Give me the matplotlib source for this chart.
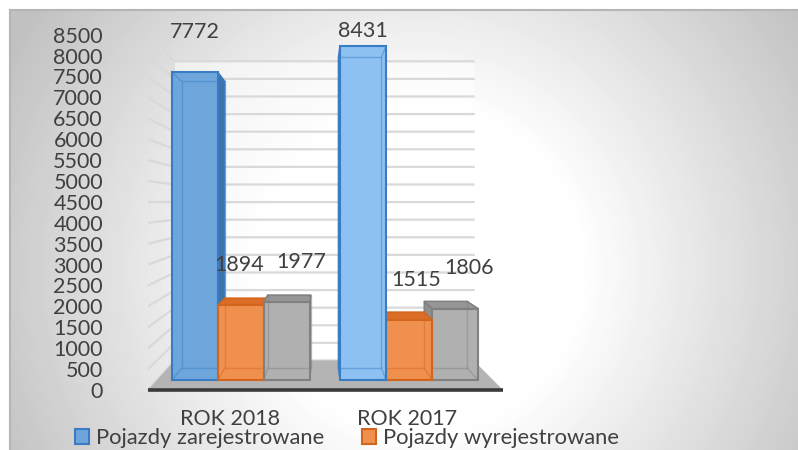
import numpy as np
import matplotlib.pyplot as plt
from matplotlib.patches import Polygon, Rectangle

plt.rcParams['font.family'] = ['Lato', 'DejaVu Sans']

# dane
categories = ['ROK 2018', 'ROK 2017']
series_names = ['Pojazdy zarejestrowane', 'Pojazdy wyrejestrowane', 'Seria 3']
zarejestrowane = [7772, 8431]
wyrejestrowane = [1894, 1515]
seria3 = [1977, 1806]
series_values = [zarejestrowane, wyrejestrowane, seria3]
y_ticks = list(range(0, 8501, 500))

# style serii (front per kategoria, bok, gora, krawedz)
styles = [
    dict(front=['#6ea6dc', '#8cc1f1'], side='#3f74a9', top='#4d86c0', edge='#3a7cc4'),
    dict(front=['#f0904e', '#f0904e'], side='#c9621e', top='#dc6d27', edge='#d2651d'),
    dict(front=['#b0b0b0', '#b0b0b0'], side='#8e8e8e', top='#969696', edge='#808080'),
]
# przesuniecie etykiet danych w poziomie (w jednostkach osi x)
label_dx = [[0.0, 0.0], [-0.01, 0.04], [0.08, 0.08]]
text_col = '#404040'
fs = 15.5

# perspektywa: punkt zbiegu i glebokosci (1 = przod podlogi)
XV, YV = 0.4527, 4474
S_WALL = 0.842
S_FRONT, S_BACK = 0.947, 0.882
BW = 0.274


def proj(x, v, s):
    return (XV + (x - XV) * s, YV + (v - YV) * s)


fig = plt.figure(figsize=(7.98, 4.5), dpi=100)
fig.patch.set_facecolor('white')

# tlo z gradientem radialnym
bg = fig.add_axes([10 / 798, 0, 788 / 798, 440 / 450])
xs = np.arange(10, 798) + 0.5
ys = np.arange(10, 450) + 0.5
gx, gy = np.meshgrid(xs, ys)
r = np.hypot(gx - 420, gy - 270)
t = np.clip((r - 160) / (460 - 160), 0, 1)
img = 1 - t * 0.24
bg.imshow(img, cmap='gray', vmin=0, vmax=1, aspect='auto', interpolation='bilinear')
bg.set_xticks([])
bg.set_yticks([])
for side in ['right', 'bottom']:
    bg.spines[side].set_visible(False)
for side in ['top', 'left']:
    bg.spines[side].set_color('#b5b5b5')
    bg.spines[side].set_linewidth(1.5)

ax = fig.add_axes([148 / 798, 45 / 450, 355 / 798, 405 / 450])
ax.set_xlim(-0.5, 1.5)
ax.set_ylim(-358.85, 9330.1)
ax.patch.set_visible(False)
for sp in ax.spines.values():
    sp.set_visible(False)

n = len(categories)
x0, x1 = -0.5, n - 0.5
top = y_ticks[-1]

# sciana tylna
wall = [proj(x0, 0, S_WALL), proj(x1, 0, S_WALL), proj(x1, top, S_WALL), proj(x0, top, S_WALL)]
ax.add_patch(Polygon(wall, closed=True, facecolor='white', alpha=0.55, edgecolor='none', zorder=1))

# linie siatki
for v in y_ticks:
    a = proj(x0, v, 1.0)
    b = proj(x0, v, S_WALL)
    c = proj(x1, v, S_WALL)
    ax.plot([a[0], b[0], c[0]], [a[1], b[1], c[1]], color='#d9d9d9', lw=1.6, zorder=2,
            solid_joinstyle='miter')

# podloga
floor = [proj(x0, 0, 1.0), proj(x1, 0, 1.0), proj(x1, 0, S_WALL), proj(x0, 0, S_WALL)]
ax.add_patch(Polygon(floor, closed=True, facecolor='#b4b4b4', edgecolor='none', zorder=3))
fa, fb = proj(x0, 0, 1.0), proj(x1, 0, 1.0)
ax.plot([fa[0], fb[0]], [fa[1], fb[1]], color='#3a3a3a', lw=2.6, zorder=3, solid_capstyle='butt')

# slupki 3D
for i in range(n):
    bars = []
    for j in range(len(series_values)):
        L = i - 1.5 * BW + j * BW
        bars.append((abs(L + BW / 2 - XV), j, L))
    bars.sort(reverse=True)
    for _, j, L in bars:
        v = series_values[j][i]
        st = styles[j]
        R = L + BW
        f = lambda x, y: proj(x, y, S_FRONT)
        b = lambda x, y: proj(x, y, S_BACK)
        z = 4
        if R < XV:
            ax.add_patch(Polygon([f(R, 0), f(R, v), b(R, v), b(R, 0)], closed=True,
                                 facecolor=st['side'], edgecolor=st['edge'], lw=1, zorder=z))
        if L > XV:
            ax.add_patch(Polygon([f(L, 0), f(L, v), b(L, v), b(L, 0)], closed=True,
                                 facecolor=st['side'], edgecolor=st['edge'], lw=1, zorder=z))
        if v < YV:
            ax.add_patch(Polygon([f(L, v), f(R, v), b(R, v), b(L, v)], closed=True,
                                 facecolor=st['top'], edgecolor=st['edge'], lw=1, zorder=z))
        ax.add_patch(Polygon([f(L, 0), f(R, 0), f(R, v), f(L, v)], closed=True,
                             facecolor=st['front'][i], edgecolor=st['edge'], lw=1.5, zorder=z))
        # ukryte krawedzie (przezroczystosc)
        back = [b(L, 0), b(R, 0), b(R, v), b(L, v), b(L, 0)]
        ax.plot([p[0] for p in back], [p[1] for p in back], color=st['edge'], lw=1, alpha=0.45, zorder=z)
        for xx, yy in [(L, 0), (R, 0), (R, v), (L, v)]:
            p, q = f(xx, yy), b(xx, yy)
            ax.plot([p[0], q[0]], [p[1], q[1]], color=st['edge'], lw=1, alpha=0.45, zorder=z)
        # etykieta danych
        cx, cy = f(L + BW / 2, v)
        ax.text(cx + label_dx[j][i], min(cy + 960, 8590), str(v), ha='center', va='center',
                fontsize=fs, color=text_col, zorder=6)

ax.set_yticks(y_ticks)
ax.set_yticklabels([str(v) for v in y_ticks])
ax.tick_params(axis='y', length=0, pad=32.4, labelsize=fs, labelcolor=text_col)
ax.set_xticks([k - 0.04 for k in range(n)])
ax.set_xticklabels(categories)
ax.tick_params(axis='x', length=0, pad=3, labelsize=fs, labelcolor=text_col)

# legenda
fig.add_artist(Rectangle((38 / 798, 0), 610 / 798, 27 / 450, transform=fig.transFigure,
                         facecolor='#ececec', edgecolor='none', zorder=0))
handles = [Rectangle((0, 0), 1, 1, facecolor=styles[j]['front'][0], edgecolor=styles[j]['edge'], lw=1.5)
           for j in range(2)]
fig.legend(handles, series_names[:2], ncol=2, frameon=False, loc='center left',
           bbox_to_anchor=(75 / 798, 12 / 450), borderpad=0, borderaxespad=0,
           handlelength=0.64, handleheight=0.64, handletextpad=0.3, columnspacing=1.75,
           fontsize=15.8, labelcolor=text_col)

fig.savefig('out.png', dpi=100)
